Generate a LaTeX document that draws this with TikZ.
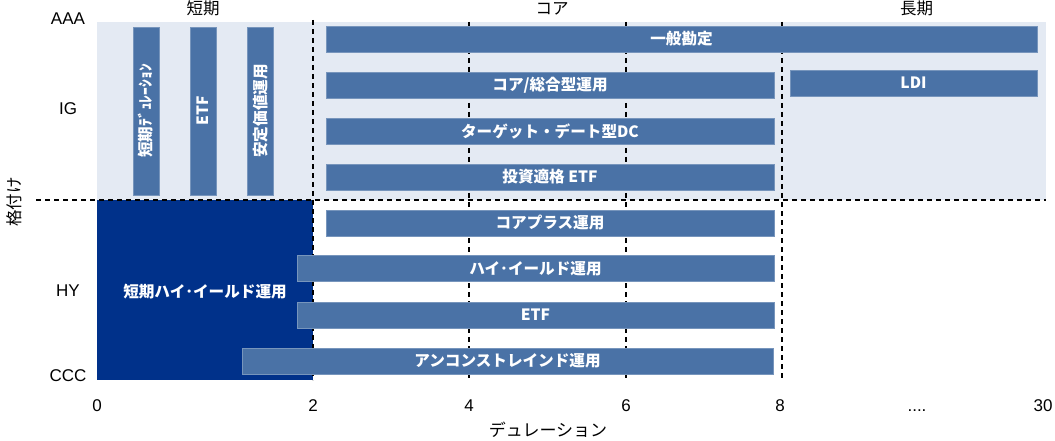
\documentclass[tikz,border=0pt]{standalone}
\usepackage{fontspec}
\setmainfont{Liberation Sans}
\newfontfamily\jp{Noto Sans CJK JP}
\usetikzlibrary{shapes}

\definecolor{barblue}{HTML}{4A72A6}
\definecolor{igshade}{HTML}{E4EAF3}
\definecolor{hyblue}{HTML}{00318A}

\begin{document}
\begin{tikzpicture}[x=1pt,y=-1pt,
  fund/.style={rectangle,fill=barblue,draw=barblue!75!white,line width=0.6pt,inner sep=0pt,
               minimum height=26pt,text=white,font=\jp\bfseries\fontsize{15.6}{17}\selectfont},
  vfund/.style={fund,rotate=90,minimum width=168pt},
  gridline/.style={black,line width=1.5pt,dash pattern=on 5pt off 4pt},
  axislabel/.style={font=\fontsize{17}{19}\selectfont},
  jplabel/.style={font=\jp\fontsize{16.5}{18}\selectfont}]

  \useasboundingbox (0,0) rectangle (1055,441);

  \pgfmathsetmacro\ytop{22}
  \pgfmathsetmacro\ymid{200}
  \pgfmathsetmacro\ybot{380}
  \pgfmathsetmacro\xzero{97}
  \pgfmathsetmacro\xend{1046}

% rating areas
  \fill[igshade] (\xzero,\ytop) rectangle (\xend,\ymid);
  \fill[hyblue]  (\xzero,\ymid) rectangle (313,\ybot);
  \node[text=white,font=\jp\bfseries\fontsize{15.6}{17}\selectfont] (shorthy) at (205,292) {短期ハイ･イールド運用};

% dashed grid
  \draw[gridline] (36,\ymid) -- (\xend,\ymid);
  \draw[gridline] (313,20) -- (313,\ybot);
  \draw[gridline] (469,\ytop) -- (469,\ybot);
  \draw[gridline] (626,\ytop) -- (626,\ybot);
  \draw[gridline] (782,\ytop) -- (782,\ybot);

% short term (vertical bars)
  \node[vfund] (shortdur) at (146,111) {短期ﾃﾞｭﾚｰｼｮﾝ};
  \node[vfund] (shortetf) at (203,111) {ETF};
  \node[vfund] (stable)   at (260.5,111) {安定価値運用};

% investment grade
  \node[fund,minimum width=711pt] (general) at (681.5,39)  {一般勘定};
  \node[fund,minimum width=448pt] (core)    at (550,85)    {コア/総合型運用};
  \node[fund,minimum width=247pt] (ldi)     at (913.5,83)  {LDI};
  \node[fund,minimum width=448pt] (tdf)     at (550,131.5) {ターゲット・デート型DC};
  \node[fund,minimum width=448pt] (igetf)   at (550,177)   {投資適格 ETF};

% high yield
  \node[fund,minimum width=448pt] (coreplus) at (550,223)   {コアプラス運用};
  \node[fund,minimum width=477pt] (hy)       at (535.5,268.5) {ハイ･イールド運用};
  \node[fund,minimum width=477pt] (hyetf)    at (535.5,315) {ETF};
  \node[fund,minimum width=531pt] (unconstr) at (507.5,361) {アンコンストレインド運用};

% segment titles
  \node[jplabel] (tshort) at (203,8.5) {短期};
  \node[jplabel] (tcore)  at (552,8.5) {コア};
  \node[jplabel] (tlong)  at (916.5,8.5) {長期};

% rating labels at left
  \node[axislabel] (aaa) at (68,18.5)  {AAA};
  \node[axislabel] (ig)  at (68,108.5) {IG};
  \node[axislabel] (hyl) at (68,291)   {HY};
  \node[axislabel] (ccc) at (68,375.5) {CCC};
  \node[jplabel,rotate=90] (rating) at (14.5,202) {格付け};

% duration labels below
  \node[axislabel] (d0)  at (97,406)  {0};
  \node[axislabel] (d2)  at (313,406) {2};
  \node[axislabel] (d4)  at (469,406) {4};
  \node[axislabel] (d6)  at (626,406) {6};
  \node[axislabel] (d8)  at (780,406) {8};
  \node[axislabel] (ddots) at (917,411) {....};
  \node[axislabel] (d30) at (1043,406) {30};
  \node[jplabel,font=\jp\fontsize{17}{19}\selectfont] (duration) at (548,430) {デュレーション};

\end{tikzpicture}
\end{document}
